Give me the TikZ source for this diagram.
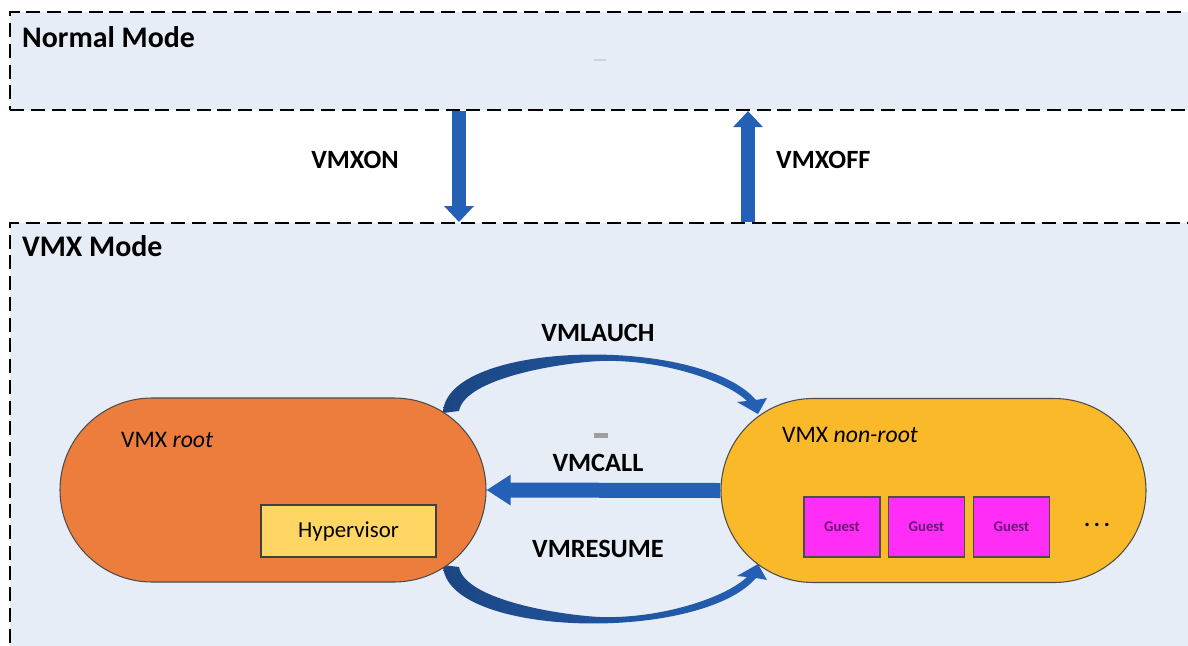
\documentclass[tikz,border=0pt]{standalone}
\usepackage{fontspec}
\setmainfont{Carlito}
\usepackage{tikz}
\usetikzlibrary{arrows.meta,shapes.misc}

\definecolor{modefill}{RGB}{230,237,247}
\definecolor{arrowblue}{RGB}{36,96,182}
\definecolor{arcdark}{RGB}{28,70,130}
\definecolor{rootorange}{RGB}{237,125,60}
\definecolor{nonrootgold}{RGB}{250,185,40}
\definecolor{hyperyellow}{RGB}{255,214,100}
\definecolor{guestpink}{RGB}{255,45,245}
\definecolor{guesttext}{RGB}{105,25,115}

\tikzset{
  modebox/.style={draw=black, line width=1.2pt, dash pattern=on 8pt off 3.8pt, fill=modefill, inner sep=0pt},
  modetitle/.style={font=\fontsize{17}{20}\selectfont\bfseries},
  lbl/.style={font=\fontsize{15}{18}\selectfont\bfseries},
  capsule/.style={rounded rectangle, draw=black!70, line width=0.6pt, minimum height=3.68cm, inner sep=0pt},
  hyperbox/.style={draw=black!75, line width=0.6pt, fill=hyperyellow, minimum width=3.5cm, minimum height=1.04cm, font=\fontsize{13}{15}\selectfont},
  guestbox/.style={draw=black!70, line width=0.6pt, fill=guestpink, minimum width=1.52cm, minimum height=1.2cm, text=guesttext, font=\fontsize{8.4}{10}\selectfont\bfseries},
  vertarrow/.style={arrowblue, line width=0.28cm, -{Triangle[width=0.58cm,length=0.32cm]}},
  callarrow/.style={arrowblue, line width=0.30cm, -{Triangle[width=0.58cm,length=0.48cm]}},
  arcarrow/.style={left color=arcdark, right color=arrowblue}
}

\begin{document}
\begin{tikzpicture}
\useasboundingbox (0cm,0cm) rectangle (23.76cm,-12.9cm);

% the two modes
\node[modebox, anchor=north west, minimum width=24cm, minimum height=1.96cm] (normal) at (0.18cm,-0.22cm) {};
\node[modebox, anchor=north west, minimum width=24cm, minimum height=9cm] (vmx) at (0.18cm,-4.44cm) {};
\node[modetitle, anchor=west] (normaltitle) at (0.32cm,-0.74cm) {Normal Mode};
\node[modetitle, anchor=west] (vmxtitle) at (0.32cm,-4.92cm) {VMX Mode};
\node[fill=gray!35, minimum width=0.24cm, minimum height=0.04cm, inner sep=0pt] (normalmark) at (12.0cm,-1.2cm) {};

% switching between modes
\coordinate (xon) at (9.18cm,0cm);
\coordinate (xoff) at (14.96cm,0cm);
\draw[vertarrow] (xon |- normal.south) -- (xon |- vmx.north);
\draw[vertarrow] (xoff |- vmx.north) -- (xoff |- normal.south);
\node[lbl] (vmxon) at (7.10cm,-3.20cm) {VMXON};
\node[lbl, anchor=west] (vmxoff) at (15.40cm,-3.20cm) {VMXOFF};

% curved block arrows (behind the capsules)
\path[arcarrow]
  (8.86cm,-8.26cm) .. controls (8.90cm,-6.80cm) and (14.00cm,-6.70cm) .. (15.12cm,-8.00cm)
  -- (15.34cm,-7.96cm) -- (15.16cm,-8.28cm) -- (14.74cm,-8.04cm) -- (14.94cm,-8.02cm)
  .. controls (14.50cm,-7.60cm) and (13.20cm,-7.18cm) .. (12.00cm,-7.22cm)
  .. controls (11.20cm,-7.26cm) and (9.30cm,-7.56cm) .. (9.18cm,-8.22cm) -- cycle;
\path[arcarrow]
  (8.86cm,-11.30cm) .. controls (8.90cm,-12.76cm) and (14.00cm,-12.86cm) .. (15.12cm,-11.56cm)
  -- (15.34cm,-11.60cm) -- (15.16cm,-11.28cm) -- (14.74cm,-11.52cm) -- (14.94cm,-11.54cm)
  .. controls (14.50cm,-11.96cm) and (13.20cm,-12.38cm) .. (12.00cm,-12.34cm)
  .. controls (11.20cm,-12.30cm) and (9.30cm,-12.00cm) .. (9.18cm,-11.34cm) -- cycle;

% root and non-root
\node[capsule, fill=rootorange, minimum width=8.52cm] (root) at (5.46cm,-9.80cm) {};
\node[capsule, fill=nonrootgold, minimum width=8.50cm] (nonroot) at (18.67cm,-9.81cm) {};
\node[anchor=west, font=\fontsize{13.5}{16}\selectfont] (roottitle) at (2.30cm,-8.80cm) {VMX \textit{root}};
\node[anchor=west, font=\fontsize{13.5}{16}\selectfont] (nonroottitle) at (15.52cm,-8.70cm) {VMX \textit{non-root}};
\node[hyperbox] (hyper) at (6.97cm,-10.62cm) {Hypervisor};
\foreach \gx [count=\i] in {16.84,18.53,20.23}
  \node[guestbox] (guest\i) at (\gx cm,-10.54cm) {Guest};
\node[font=\fontsize{13}{15}\selectfont\bfseries] (more) at (21.94cm,-10.50cm) {.\,.\,.};

% VMCALL
\draw[callarrow] (nonroot.west) -- (root.east);
\node[fill=gray!75, minimum width=0.28cm, minimum height=0.1cm, inner sep=0pt] (callmark) at (12.02cm,-8.70cm) {};
\node[lbl] (vmlauch) at (11.96cm,-6.66cm) {VMLAUCH};
\node[lbl] (vmcall) at (11.96cm,-9.26cm) {VMCALL};
\node[lbl] (vmresume) at (11.96cm,-10.98cm) {VMRESUME};
\end{tikzpicture}
\end{document}
